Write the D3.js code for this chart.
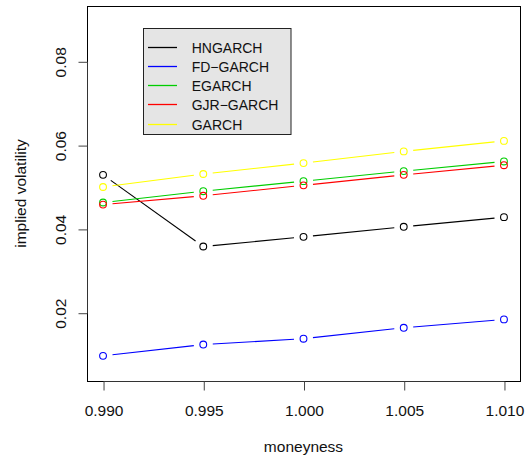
<!DOCTYPE html>
<html>
<head>
<meta charset="utf-8">
<script src="https://cdn.jsdelivr.net/npm/d3@7"></script>
<style>
  html, body { margin: 0; padding: 0; background: #fff; }
  svg { display: block; font-family: "Liberation Sans", Arial, Helvetica, sans-serif; }
</style>
</head>
<body>
<svg id="chart" width="525" height="461"></svg>
<script>
// Moneyness grid and implied volatility per model
const moneyness = [0.990, 0.995, 1.000, 1.005, 1.010];
const hngarch  = [0.0529, 0.0358, 0.0381, 0.0405, 0.0428];
const fdgarch  = [0.0097, 0.0124, 0.0138, 0.0164, 0.0184];
const egarch   = [0.0463, 0.0490, 0.0514, 0.0538, 0.0561];
const gjrgarch = [0.0458, 0.0479, 0.0504, 0.0529, 0.0552];
const garch    = [0.0500, 0.0531, 0.0557, 0.0585, 0.0610];

const seriesNames  = ["HNGARCH", "FD\u2212GARCH", "EGARCH", "GJR\u2212GARCH", "GARCH"];
const seriesValues = [hngarch, fdgarch, egarch, gjrgarch, garch];
const seriesColors = ["#000000", "#0000ff", "#00cd00", "#ff0000", "#ffff00"];

const xTicks = [0.990, 0.995, 1.000, 1.005, 1.010];
const yTicks = [0.02, 0.04, 0.06, 0.08];

const plot = { left: 87, right: 520, top: 6, bottom: 381 };

const svg = d3.select("#chart");

const x = d3.scaleLinear().domain([0.9892, 1.0108]).range([plot.left, plot.right]);
const y = d3.scaleLinear().domain([0.0037, 0.0932]).range([plot.bottom, plot.top]);

// Series: lines broken around each point marker (R type = "b")
const gap = 9.5;
seriesValues.forEach((vals, si) => {
  const pts = moneyness.map((m, i) => [x(m), y(vals[i])]);
  const g = svg.append("g");
  for (let i = 0; i < pts.length - 1; i++) {
    const [x0, y0] = pts[i], [x1, y1] = pts[i + 1];
    const dx = x1 - x0, dy = y1 - y0, len = Math.hypot(dx, dy);
    if (len <= 2 * gap) continue;
    const ux = dx / len, uy = dy / len;
    g.append("line")
      .attr("x1", x0 + ux * gap).attr("y1", y0 + uy * gap)
      .attr("x2", x1 - ux * gap).attr("y2", y1 - uy * gap)
      .attr("stroke", seriesColors[si]).attr("stroke-width", 1.1);
  }
  g.selectAll("circle").data(pts).join("circle")
    .attr("cx", d => d[0]).attr("cy", d => d[1]).attr("r", 3.4)
    .attr("fill", "none").attr("stroke", seriesColors[si]).attr("stroke-width", 1.1);
});

// Plot frame
svg.append("rect")
  .attr("x", plot.left + 0.5).attr("y", plot.top + 0.5)
  .attr("width", plot.right - plot.left).attr("height", plot.bottom - plot.top)
  .attr("fill", "none").attr("stroke", "#000").attr("stroke-width", 1);

// X axis
const xAxis = svg.append("g")
  .attr("transform", `translate(0.5,${plot.bottom + 0.5})`)
  .call(d3.axisBottom(x).tickValues(xTicks).tickFormat(d3.format(".3f")).tickSize(9).tickSizeOuter(0));
xAxis.select(".domain").attr("d", `M${x(xTicks[0])},0H${x(xTicks[xTicks.length - 1])}`).attr("stroke", "#333");
xAxis.selectAll(".tick line").attr("stroke", "#444");
xAxis.selectAll(".tick text")
  .attr("y", 34.5).attr("dy", null)
  .attr("fill", "#111").attr("font-size", 15.5).attr("font-family", "Liberation Sans, Arial, sans-serif");

// Y axis with rotated labels
const yAxis = svg.append("g")
  .attr("transform", `translate(${plot.left + 0.5},0.5)`)
  .call(d3.axisLeft(y).tickValues(yTicks).tickFormat(d3.format(".2f")).tickSize(9).tickSizeOuter(0));
yAxis.select(".domain").attr("d", `M0,${y(yTicks[0])}V${y(yTicks[yTicks.length - 1])}`).attr("stroke", "#333");
yAxis.selectAll(".tick line").attr("stroke", "#444");
yAxis.selectAll(".tick text")
  .attr("x", null).attr("dy", null)
  .attr("transform", "translate(-22,0) rotate(-90)")
  .attr("text-anchor", "middle")
  .attr("fill", "#111").attr("font-size", 15.5).attr("font-family", "Liberation Sans, Arial, sans-serif");

// Axis titles
svg.append("text")
  .attr("x", (plot.left + plot.right) / 2).attr("y", 452)
  .attr("text-anchor", "middle").attr("font-size", 15.5).attr("fill", "#111")
  .text("moneyness");
svg.append("text")
  .attr("transform", `translate(26,${(plot.top + plot.bottom) / 2}) rotate(-90)`)
  .attr("text-anchor", "middle").attr("font-size", 15.5).attr("fill", "#111")
  .text("implied volatility");

// Legend
const legend = svg.append("g");
legend.append("rect")
  .attr("x", 143.5).attr("y", 28.5).attr("width", 147.5).attr("height", 106)
  .attr("fill", "#e5e5e5").attr("stroke", "#222").attr("stroke-width", 1);
seriesNames.forEach((name, i) => {
  const cy = Math.round(46.7 + i * 19.2) + 0.5;
  legend.append("line")
    .attr("x1", 148).attr("x2", 177).attr("y1", cy).attr("y2", cy)
    .attr("stroke", seriesColors[i]).attr("stroke-width", 1.3);
  legend.append("text")
    .attr("x", 191.7).attr("y", cy + 5)
    .attr("font-size", 14).attr("fill", "#111")
    .text(name);
});
</script>
</body>
</html>
